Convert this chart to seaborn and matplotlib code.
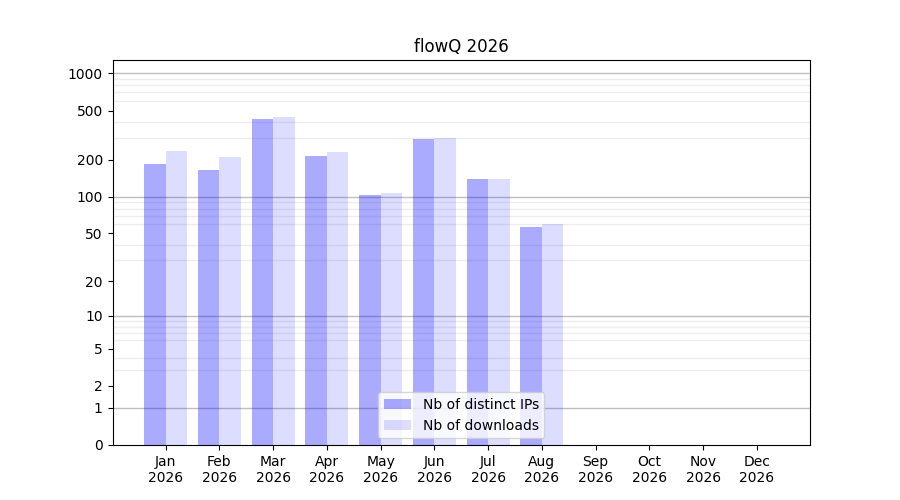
import numpy as np
import pandas as pd
import matplotlib
matplotlib.use("Agg")
import matplotlib.pyplot as plt
import seaborn as sns

months = ["Jan", "Feb", "Mar", "Apr", "May", "Jun", "Jul", "Aug", "Sep", "Oct", "Nov", "Dec"]
year = "2026"
distinct_ips = [185, 165, 427, 214, 103, 294, 139, 57, 0, 0, 0, 0]
downloads = [235, 210, 443, 231, 107, 299, 139, 60, 0, 0, 0, 0]
series_names = ["Nb of distinct IPs", "Nb of downloads"]
series_alphas = [0.333, 0.133]
bar_color = "#0000ff"
y_ticks = [0, 1, 2, 5, 10, 20, 50, 100, 200, 500, 1000]
decades = [1, 10, 100, 1000]
minor_grid = [m * d for d in [1, 10, 100] for m in range(2, 10)]
title = "flowQ 2026"

labels = [f"{m}\n{year}" for m in months]
df = pd.DataFrame({
    "month": labels * 2,
    "value": distinct_ips + downloads,
    "series": [series_names[0]] * len(labels) + [series_names[1]] * len(labels),
})

fig, ax = plt.subplots(figsize=(9, 5), dpi=100)
sns.barplot(data=df, x="month", y="value", hue="series", hue_order=series_names,
            palette=[bar_color, bar_color], saturation=1, ax=ax, width=0.8)

for cont, a in zip(ax.containers, series_alphas):
    for p in cont.patches:
        p.set_alpha(a)
        p.set_zorder(1)

def fwd(x):
    return np.log10(np.clip(x, -0.9999, None) + 1)

def inv(y):
    return 10 ** y - 1

ax.set_yscale("function", functions=(fwd, inv))
ax.set_ylim(0, 1280)
ax.set_xlim(-0.99, 11.99)
ax.set_yticks(y_ticks)
ax.set_yticklabels([str(t) for t in y_ticks])
ax.set_yticks(minor_grid, minor=True)
ax.tick_params(axis="y", which="minor", length=0)
ax.set_axisbelow(True)
ax.yaxis.grid(True, which="minor", color="black", alpha=0.07, linewidth=1)
ax.yaxis.grid(False, which="major")
for d in decades:
    ax.axhline(d, color="gray", alpha=0.5, linewidth=1, zorder=0.6)

ax.set_xlabel("")
ax.set_ylabel("")
ax.set_title(title)
sns.move_legend(ax, "lower center", title=None)
leg = ax.get_legend()
for h, a in zip(leg.legend_handles, series_alphas):
    h.set_alpha(a)
leg.set_zorder(10)

fig.savefig("out.png", dpi=100)
